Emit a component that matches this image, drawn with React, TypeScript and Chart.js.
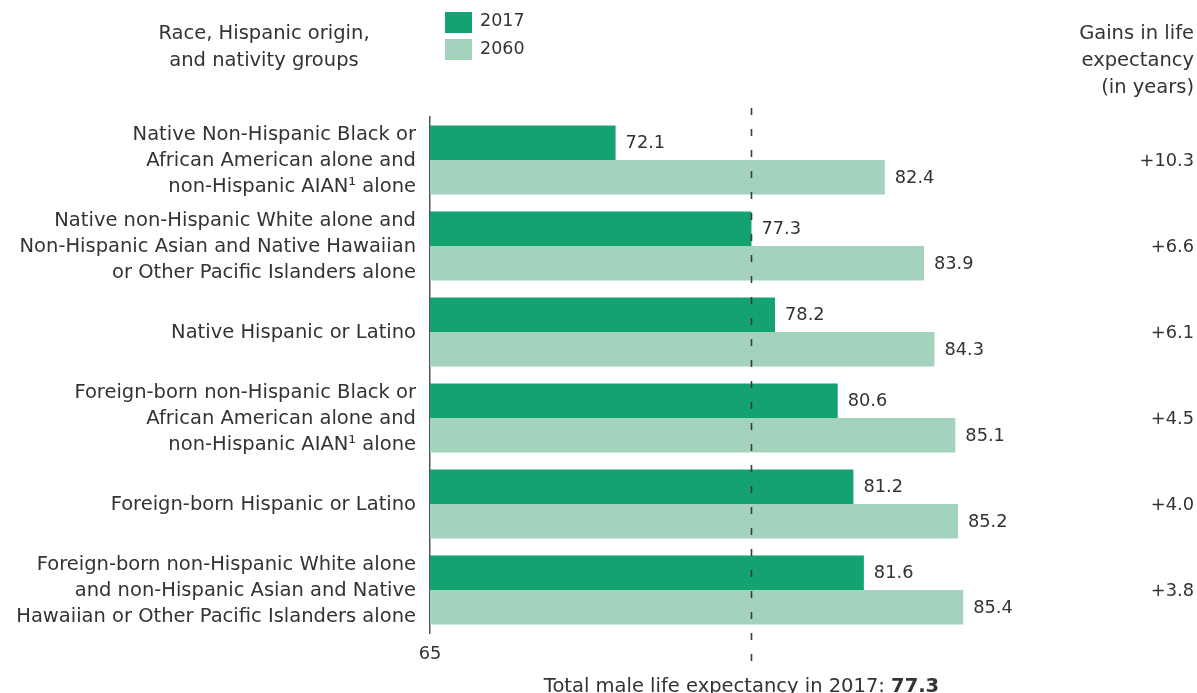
import React, { useEffect, useRef } from "react";
import { Chart, registerables } from "chart.js";

Chart.register(...registerables);

const categories: string[][] = [
  ["Native Non-Hispanic Black or", "African American alone and", "non-Hispanic AIAN¹ alone"],
  ["Native non-Hispanic White alone and", "Non-Hispanic Asian and Native Hawaiian", "or Other Pacific Islanders alone"],
  ["Native Hispanic or Latino"],
  ["Foreign-born non-Hispanic Black or", "African American alone and", "non-Hispanic AIAN¹ alone"],
  ["Foreign-born Hispanic or Latino"],
  ["Foreign-born non-Hispanic White alone", "and non-Hispanic Asian and Native", "Hawaiian or Other Pacific Islanders alone"],
];
const values2017 = [72.1, 77.3, 78.2, 80.6, 81.2, 81.6];
const values2060 = [82.4, 83.9, 84.3, 85.1, 85.2, 85.4];
const gains = ["+10.3", "+6.6", "+6.1", "+4.5", "+4.0", "+3.8"];
const seriesNames = ["2017", "2060"];
const xTickValues = [65];
const totalMale2017 = 77.3;
const leftHeader = ["Race, Hispanic origin,", "and nativity groups"];
const rightHeader = ["Gains in life", "expectancy", "(in years)"];
const refLabel = "Total male life expectancy in 2017: ";

const FONT = '"DejaVu Sans", sans-serif';
const FS = 19.5;
const NS = 17.8;
const TEXT = "#333333";
const DARK = "#14a370";
const LIGHT = "#a3d3bd";

const overlay = {
  id: "overlay",
  afterDatasetsDraw(chart: any) {
    const ctx = chart.ctx;
    const xs = chart.scales.x;
    const ys = chart.scales.y;
    ctx.save();
    // value labels
    ctx.font = `${NS}px ${FONT}`;
    ctx.fillStyle = TEXT;
    ctx.textBaseline = "middle";
    ctx.textAlign = "left";
    [values2017, values2060].forEach((vals, di) => {
      const meta = chart.getDatasetMeta(di);
      meta.data.forEach((el: any, i: number) => {
        ctx.fillText(vals[i].toFixed(1), el.x + 10, el.y + 1);
      });
    });
    // dashed reference line
    const rx = Math.round(xs.getPixelForValue(totalMale2017)) + 0.5;
    ctx.strokeStyle = "#3a3a3a";
    ctx.lineWidth = 1.6;
    ctx.setLineDash([7, 14]);
    ctx.beginPath();
    ctx.moveTo(rx, chart.chartArea.top - 9);
    ctx.lineTo(rx, chart.chartArea.bottom + 36);
    ctx.stroke();
    ctx.setLineDash([]);
    // reference label
    ctx.textBaseline = "alphabetic";
    ctx.font = `${FS}px ${FONT}`;
    const w1 = ctx.measureText(refLabel).width;
    ctx.font = `bold ${FS}px ${FONT}`;
    const valStr = totalMale2017.toFixed(1);
    const w2 = ctx.measureText(valStr).width;
    const cx = rx - 10;
    const startX = cx - (w1 + w2) / 2;
    ctx.textAlign = "left";
    ctx.fillStyle = TEXT;
    ctx.font = `${FS}px ${FONT}`;
    ctx.fillText(refLabel, startX, 692);
    ctx.font = `bold ${FS}px ${FONT}`;
    ctx.fillText(valStr, startX + w1, 692);
    // gains column
    ctx.font = `${NS}px ${FONT}`;
    ctx.textAlign = "right";
    ctx.textBaseline = "middle";
    gains.forEach((g, i) => {
      ctx.fillText(g, 1194, ys.getPixelForValue(i) + 1);
    });
    // headers
    ctx.font = `${FS}px ${FONT}`;
    rightHeader.forEach((t, i) => ctx.fillText(t, 1194, 34 + i * 27));
    ctx.textAlign = "center";
    leftHeader.forEach((t, i) => ctx.fillText(t, 264, 34 + i * 27));
    // legend
    ctx.textAlign = "left";
    ctx.font = `17.5px ${FONT}`;
    [DARK, LIGHT].forEach((c, i) => {
      ctx.fillStyle = c;
      ctx.fillRect(445, 12 + i * 27, 27, 21);
      ctx.fillStyle = TEXT;
      ctx.fillText(seriesNames[i], 480, 21 + i * 28);
    });
    ctx.restore();
  },
};

export default function App() {
  const ref = useRef<HTMLCanvasElement>(null);
  useEffect(() => {
    const chart = new Chart(ref.current!, {
      type: "bar",
      data: {
        labels: categories,
        datasets: [
          { label: seriesNames[0], data: values2017, backgroundColor: DARK, categoryPercentage: 0.8, barPercentage: 1.0 },
          { label: seriesNames[1], data: values2060, backgroundColor: LIGHT, categoryPercentage: 0.8, barPercentage: 1.0 },
        ],
      },
      options: {
        indexAxis: "y",
        animation: false,
        responsive: true,
        maintainAspectRatio: false,
        layout: { padding: { top: 117, right: 192, bottom: 0, left: 0 } },
        plugins: { legend: { display: false }, tooltip: { enabled: false } },
        scales: {
          x: {
            min: 65,
            max: 87,
            grid: { display: false, drawTicks: false },
            border: { display: false },
            afterBuildTicks: (s: any) => {
              s.ticks = xTickValues.map((v) => ({ value: v }));
            },
            afterFit: (s: any) => {
              s.height = 60;
            },
            ticks: { padding: 11, color: TEXT, font: { family: FONT, size: NS }, autoSkip: false, maxRotation: 0 },
          },
          y: {
            grid: { display: false, drawTicks: false },
            border: { display: true, color: "#555555", width: 1.5 },
            afterFit: (s: any) => {
              s.width = 430;
            },
            ticks: { padding: 14, labelOffset: 1, color: TEXT, font: { family: FONT, size: FS, lineHeight: 1.333 } as any },
          },
        },
      },
      plugins: [overlay],
    } as any);
    return () => chart.destroy();
  }, []);
  return (
    <div style={{ position: "absolute", left: 0, top: 0, width: 1197, height: 693, background: "#fff" }}>
      <canvas ref={ref} />
    </div>
  );
}
